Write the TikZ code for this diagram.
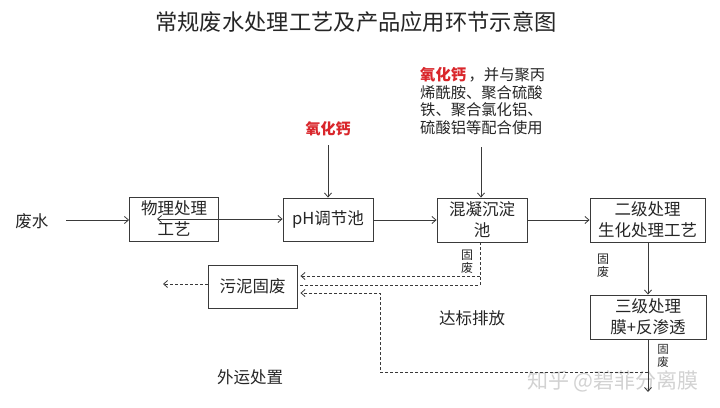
\documentclass[tikz,border=0pt]{standalone}
\usepackage{fontspec}
\setmainfont{Noto Sans CJK SC}
\usetikzlibrary{arrows.meta}
\definecolor{ln}{HTML}{3A3A3A}
\definecolor{txt}{HTML}{262626}
\definecolor{redc}{HTML}{D9262B}
\tikzset{
  box/.style={draw=ln,line width=0.9pt,align=center,inner sep=0pt,text=txt,font=\fontsize{16.5}{21}\selectfont},
  flow/.style={ln,line width=0.8pt,-{Straight Barb[length=4pt,width=7pt]}},
  dflow/.style={ln,line width=0.8pt,dash pattern=on 3pt off 2pt},
  small/.style={text=txt,align=center,font=\fontsize{12}{13}\selectfont},
}
\begin{document}
\begin{tikzpicture}[x=1pt,y=-1pt]
\fill[white] (0,0) rectangle (720,407);
\useasboundingbox (0,0) rectangle (720,407);
% title
\node[text=txt,font=\fontsize{22.3}{25}\selectfont] (title) at (356,22) {常规废水处理工艺及产品应用环节示意图};
% boxes
\node[box,minimum width=89pt,minimum height=44pt] (b1) at (174,219) {物理处理\\工艺};
\node[box,minimum width=90pt,minimum height=43pt] (b2) at (328,219.5) {pH调节池};
\node[box,minimum width=90pt,minimum height=44pt] (b3) at (482,220) {混凝沉淀\\池};
\node[box,minimum width=115pt,minimum height=44pt] (b4) at (647.5,220) {二级处理\\生化处理工艺};
\node[box,minimum width=116pt,minimum height=44pt] (b5) at (648,317) {三级处理\\膜+反渗透};
\node[box,minimum width=89pt,minimum height=43pt] (b6) at (252.5,286.5) {污泥固废};
% texts
\node[text=txt,font=\fontsize{16.5}{20}\selectfont] (fs) at (32,221) {废水};
\node[text=redc,font=\bfseries\fontsize{15}{18}\selectfont] (cao1) at (328,129) {氧化钙};
\node[text=txt,anchor=north west,align=left,inner sep=0pt,font=\fontsize{15.3}{17.8}\selectfont] (cao2) at (420,67)
  {\textcolor{redc}{\bfseries 氧化钙}\,，并与聚丙\\烯酰胺、聚合硫酸\\铁、聚合氯化铝、\\硫酸铝等配合使用};
\node[text=txt,font=\fontsize{16.5}{20}\selectfont] (db) at (472,318) {达标排放};
\node[text=txt,font=\fontsize{16.5}{20}\selectfont] (wy) at (250,377) {外运处置};
\node[small] (g1) at (467,262) {固\\废};
\node[small] (g2) at (603,266) {固\\废};
\node[small,font=\fontsize{11.5}{12.5}\selectfont] (g3) at (663,356) {固\\废};
\node[text=gray!35,font=\fontsize{21}{24}\selectfont] (wm) at (613,381) {知乎 @碧菲分离膜};
% coordinates
\coordinate (fsR) at (66,220);
\coordinate (in1) at (157,219);
\coordinate (caoA) at (328,145);
\coordinate (caoB) at (481,147);
\coordinate (out5) at (648,392);
\coordinate (d3a) at (480,242);
\coordinate (d3b) at (480,285);
\coordinate (d3c) at (480,276);
\coordinate (d5a) at (648,372);
\coordinate (d5b) at (380,372);
\coordinate (d5c) at (380,293);
\coordinate (d6l) at (163,284);
% solid flows
\draw[flow] (fsR) -- (b1.west |- fsR);
\draw[flow,{Straight Barb[length=4pt,width=7pt]}-{Straight Barb[length=4pt,width=7pt]}] (in1) -- (b2.west |- in1);
\draw[flow] (b2.east |- 0,220) -- (b3.west |- 0,220);
\draw[flow] (b3.east |- 0,220) -- (b4.west |- 0,220);
\draw[flow] (caoA) -- (b2.north);
\draw[flow] (caoB) -- (caoB |- b3.north);
\draw[flow] (b4.south -| 648,0) -- (b5.north -| 648,0);
\draw[flow] (b5.south -| 648,0) -- (out5);
% dashed flows
\draw[dflow] (d3a) -- (d3b) -- (b6.east |- d3b);
\draw[dflow,-{Straight Barb[length=4pt,width=7pt]}] (d3c) -- ([xshift=3pt]b6.east |- d3c);
\draw[dflow,-{Straight Barb[length=4pt,width=7pt]}] (d5a) -- (d5b) -- (d5c) -- ([xshift=3pt]b6.east |- d5c);
\draw[dflow,-{Straight Barb[length=4pt,width=7pt]}] (b6.west |- d6l) -- (d6l);
\end{tikzpicture}
\end{document}
